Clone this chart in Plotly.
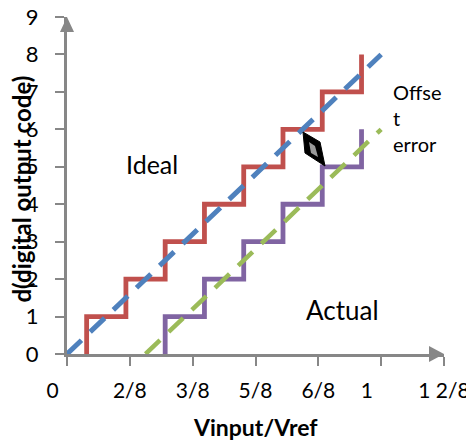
import plotly.graph_objects as go

# ---- data ----
ideal_transitions = [0.0625, 0.1875, 0.3125, 0.4375, 0.5625, 0.6875, 0.8125, 0.9375]
ideal_codes = [1, 2, 3, 4, 5, 6, 7, 8]
actual_transitions = [0.3125, 0.4375, 0.5625, 0.6875, 0.8125, 0.9375]
actual_codes = [1, 2, 3, 4, 5, 6]
ideal_line_x = [0, 1]
ideal_line_y = [0, 8]
actual_line_x = [0.25, 1]
actual_line_y = [0, 6]
x_tickvals = [0, 0.2, 0.4, 0.6, 0.8, 1.0, 1.2]
x_ticktext = ["0\u2007\u2007\u2008", "2/8", "3/8", "5/8", "6/8", "1\u2007\u2007\u2008", "1 2/8"]
y_tickvals = [0, 1, 2, 3, 4, 5, 6, 7, 8, 9]

FONT = "Lato"
RED = "#C0504D"
BLUE = "#4F81BD"
PURPLE = "#8064A2"
GREEN = "#9BBB59"
AXIS = "#878787"


def staircase(transitions, codes):
    xs, ys = [], []
    for t, c in zip(transitions, codes):
        xs += [t, t]
        ys += [c - 1, c]
    return xs, ys


fig = go.Figure()
rx, ry = staircase(ideal_transitions, ideal_codes)
px_, py_ = staircase(actual_transitions, actual_codes)
fig.add_trace(go.Scatter(x=rx, y=ry, mode="lines", line=dict(color=RED, width=4.8),
                         hoverinfo="skip", showlegend=False))
fig.add_trace(go.Scatter(x=px_, y=py_, mode="lines", line=dict(color=PURPLE, width=4.8),
                         hoverinfo="skip", showlegend=False))
fig.add_trace(go.Scatter(x=ideal_line_x, y=ideal_line_y, mode="lines",
                         line=dict(color=BLUE, width=5, dash="20px,12px"),
                         hoverinfo="skip", showlegend=False))
fig.add_trace(go.Scatter(x=actual_line_x, y=actual_line_y, mode="lines",
                         line=dict(color=GREEN, width=4.5, dash="20px,12px"),
                         hoverinfo="skip", showlegend=False))

shapes = [
    # x-axis arrowhead
    dict(type="path", xref="paper", yref="paper", xsizemode="pixel", ysizemode="pixel",
         xanchor=1, yanchor=0, path="M -15,-8 L 0,0 L -15,8 Z",
         fillcolor=AXIS, line=dict(width=0)),
    # y-axis arrowhead
    dict(type="path", xref="paper", yref="paper", xsizemode="pixel", ysizemode="pixel",
         xanchor=0, yanchor=1, path="M -7,-15 L 0,0 L 7,-15 Z",
         fillcolor=AXIS, line=dict(width=0)),
    # black rhombus marker
    dict(type="path", xref="paper", yref="paper", xsizemode="pixel", ysizemode="pixel",
         xanchor=0, yanchor=0,
         path="M 236,222 L 253,212 L 258,188 L 238,201 Z",
         fillcolor="black", line=dict(color="black", width=1)),
    dict(type="path", xref="paper", yref="paper", xsizemode="pixel", ysizemode="pixel",
         xanchor=0, yanchor=0,
         path="M 242,212 L 248,208 L 251,197 L 244,201 Z",
         fillcolor="#9a9a9a", line=dict(width=0)),
]

annotations = [
    dict(text="Ideal", x=0.27, y=5.08, xref="x", yref="y", showarrow=False,
         font=dict(family=FONT, size=25, color="black")),
    dict(text="Actual", x=0.876, y=1.17, xref="x", yref="y", showarrow=False,
         font=dict(family=FONT, size=26, color="black")),
    dict(text="Offse<br>t<br>error", x=1.03, y=6.3, xref="x", yref="y", showarrow=False,
         xanchor="left", align="left",
         font=dict(family=FONT, size=20, color="black")),
    dict(text="<b>Vinput/Vref</b>", x=0.5, y=0, xref="paper", yref="paper",
         yshift=-73, showarrow=False, yanchor="middle",
         font=dict(family=FONT, size=23, color="black")),
    dict(text="<b>d(digital output code)</b>", x=0, y=0.5, xref="paper", yref="paper",
         xshift=-46, yshift=-4, showarrow=False, textangle=-90, xanchor="center",
         borderpad=0,
         font=dict(family=FONT, size=24, color="black")),
]

# the page body adds an 8px offset, so the figure is 8px smaller in each direction
fig.update_layout(
    width=466, height=435,
    margin=dict(l=59, r=30, t=9, b=89, pad=0, autoexpand=False),
    paper_bgcolor="white", plot_bgcolor="white",
    shapes=shapes, annotations=annotations,
    xaxis=dict(range=[0, 1.2], tickvals=x_tickvals, ticktext=x_ticktext,
               showgrid=False, zeroline=False, showline=True, linecolor=AXIS, linewidth=3,
               ticks="outside", ticklen=9, tickwidth=1.5, tickcolor=AXIS,
               ticklabelstandoff=7, automargin=False, ticklabeloverflow="allow",
               tickfont=dict(family=FONT, size=21, color="black")),
    yaxis=dict(range=[0, 9.0005], tickvals=y_tickvals,
               showgrid=False, zeroline=False, showline=True, linecolor=AXIS, linewidth=3,
               ticks="outside", ticklen=9, tickwidth=1.5, tickcolor=AXIS,
               ticklabelstandoff=12, automargin=False, ticklabeloverflow="allow",
               tickfont=dict(family=FONT, size=22, color="black")),
)

fig.write_html("out.html")
